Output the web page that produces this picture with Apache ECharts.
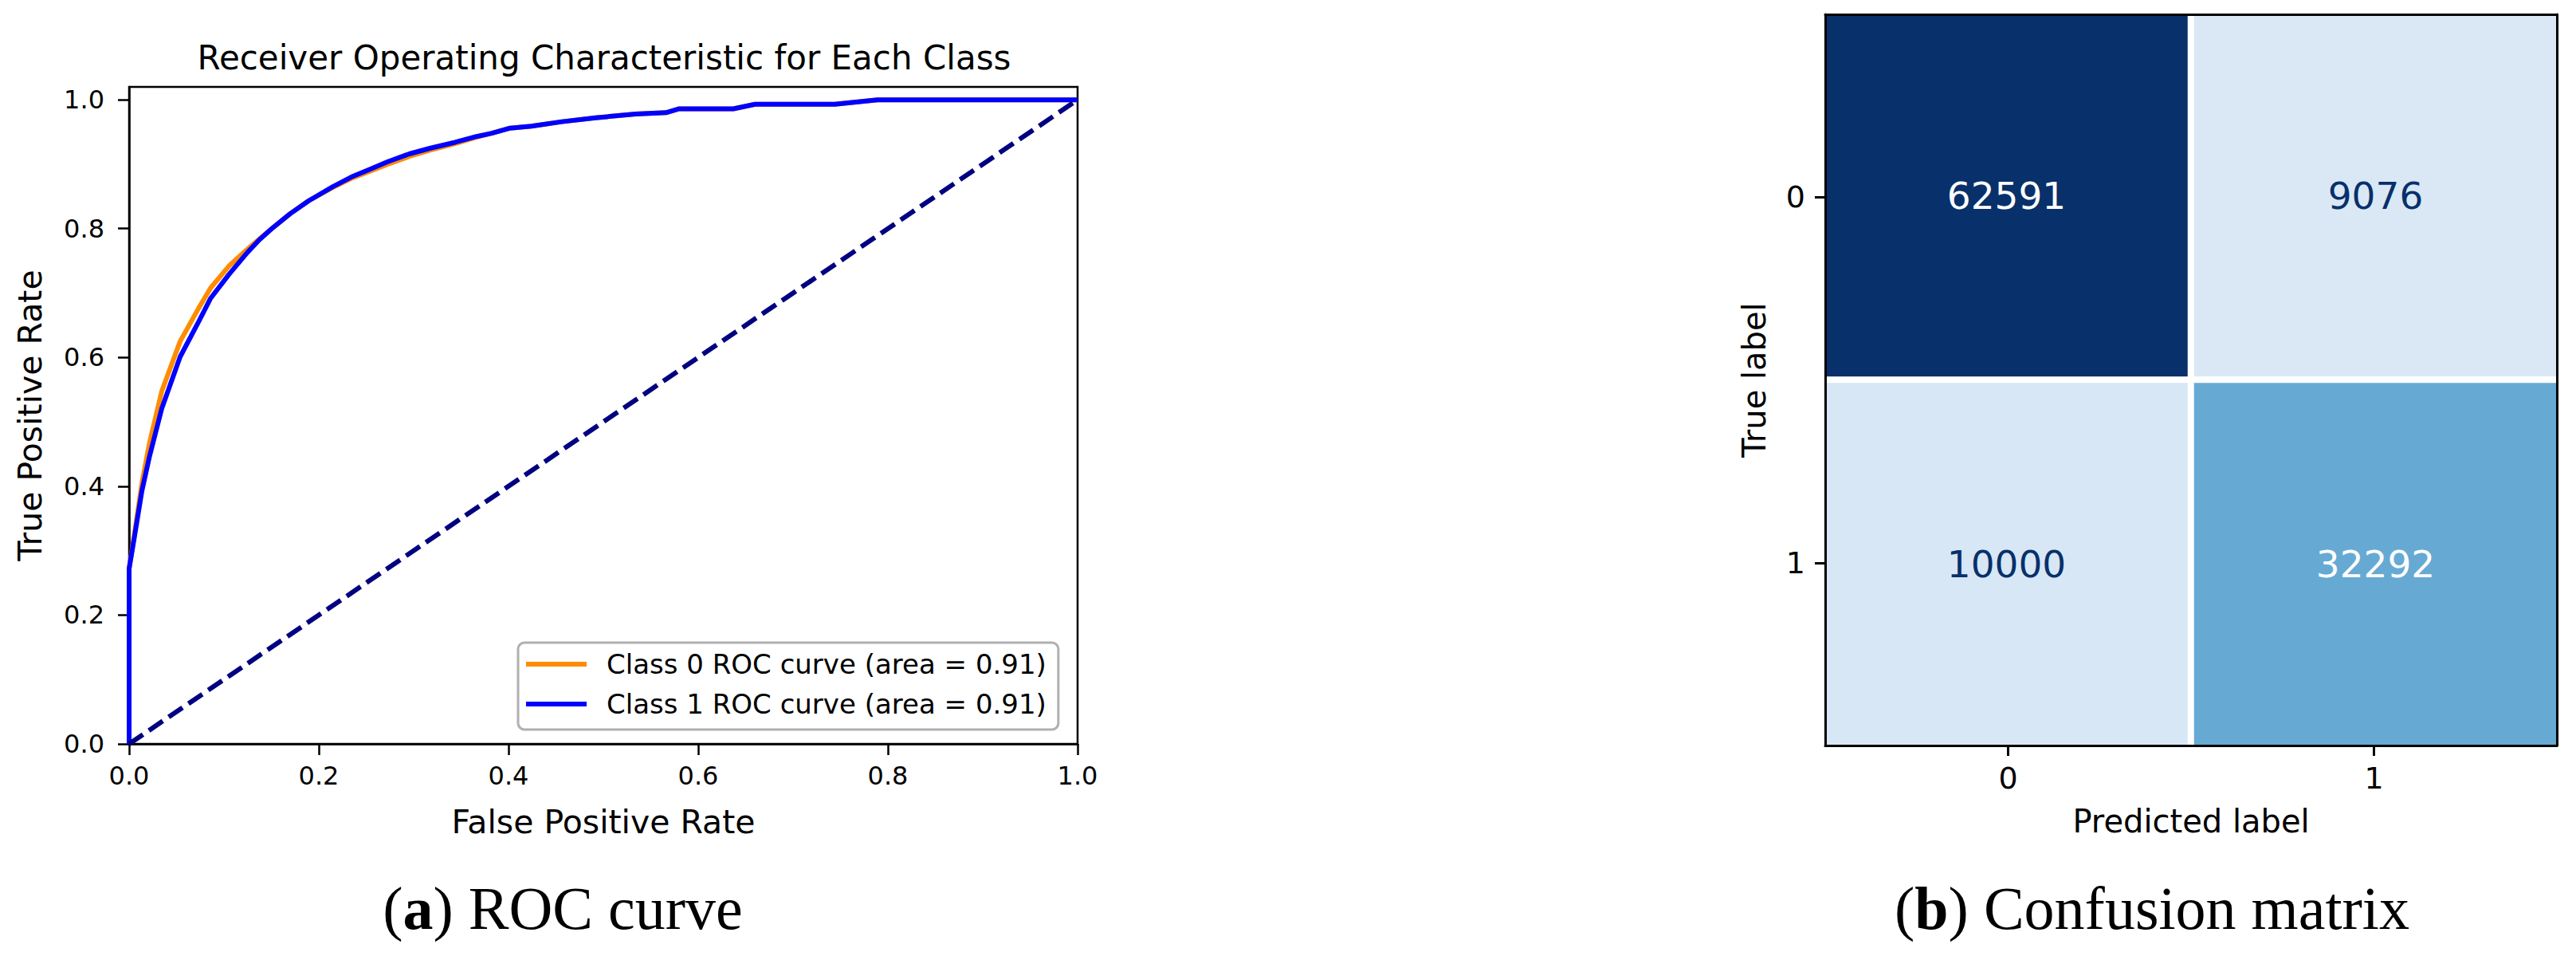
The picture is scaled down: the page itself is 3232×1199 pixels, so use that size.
<!DOCTYPE html>
<html>
<head>
<meta charset="utf-8">
<script src="https://cdn.jsdelivr.net/npm/echarts@6.0.0/dist/echarts.min.js"></script>
<style>
html, body { margin: 0; padding: 0; background: #ffffff; }
#c { width: 3232px; height: 1199px; }
</style>
</head>
<body>
<div id="c"></div>
<script>
// ---------- ROC data ----------
const fpr0 = [0, 0, 0.006, 0.0135, 0.0216, 0.0345, 0.0538, 0.0731, 0.086, 0.1053, 0.1247, 0.1375, 0.1504, 0.1697, 0.1891, 0.2148, 0.2342, 0.2535, 0.2728, 0.2954, 0.3179, 0.3437, 0.3662, 0.3823, 0.4017, 0.4242, 0.4564, 0.4918, 0.534, 0.566, 0.58, 0.637, 0.66, 0.744, 0.789, 1.0];
const tpr0 = [0, 0.272, 0.33, 0.405, 0.468, 0.548, 0.625, 0.676, 0.708, 0.742, 0.768, 0.784, 0.800, 0.823, 0.843, 0.864, 0.878, 0.889, 0.900, 0.912, 0.922, 0.932, 0.942, 0.948, 0.956, 0.959, 0.966, 0.972, 0.978, 0.980, 0.986, 0.986, 0.993, 0.993, 1.0, 1.0];
const fpr1 = [0, 0, 0.006, 0.0135, 0.0216, 0.0345, 0.0538, 0.0731, 0.086, 0.1053, 0.1247, 0.1375, 0.1504, 0.1697, 0.1891, 0.2148, 0.2342, 0.2535, 0.2728, 0.2954, 0.3179, 0.3437, 0.3662, 0.3823, 0.4017, 0.4242, 0.4564, 0.4918, 0.534, 0.566, 0.58, 0.637, 0.66, 0.744, 0.789, 1.0];
const tpr1 = [0, 0.272, 0.325, 0.393, 0.447, 0.521, 0.601, 0.655, 0.692, 0.729, 0.763, 0.783, 0.800, 0.823, 0.843, 0.865, 0.880, 0.892, 0.904, 0.916, 0.925, 0.934, 0.943, 0.948, 0.956, 0.959, 0.966, 0.972, 0.978, 0.980, 0.986, 0.986, 0.993, 0.993, 1.0, 1.0];
const diagFpr = [0, 1];
const diagTpr = [0, 1];
const rocTicks = [0, 0.2, 0.4, 0.6, 0.8, 1.0];
const seriesNames = ['Class 0 ROC curve (area = 0.91)', 'Class 1 ROC curve (area = 0.91)'];
const rocTitle = 'Receiver Operating Characteristic for Each Class';

// ---------- Confusion matrix data ----------
const cmPredicted = ['0', '1'];
const cmTrue = ['0', '1'];
const cmRow0 = [62591, 9076];
const cmRow1 = [10000, 32292];

const captionA = ['(', 'a', ') ROC curve'];
const captionB = ['(', 'b', ') Confusion matrix'];

// ---------- build ----------
const SANS = 'DejaVu Sans';
const SERIF = 'Liberation Serif';
const pair = (xs, ys) => xs.map((x, i) => [x, ys[i]]);
const cmRows = [cmRow0, cmRow1];
const cmMax = Math.max(...cmRow0, ...cmRow1);
const heat = [];
cmRows.forEach((row, i) => row.forEach((v, j) => {
  heat.push({ value: [j, i, v], label: { color: v > cmMax / 2 ? '#ffffff' : '#08306b' } });
}));
const blues = ['#f7fbff', '#deebf7', '#c6dbef', '#9ecae1', '#6baed6', '#4292c6', '#2171b5', '#08519c', '#08306b'];

const capRich = {
  n: { fontFamily: SERIF, fontSize: 76, color: '#000', lineHeight: 76, fontWeight: 'normal' },
  b: { fontFamily: SERIF, fontSize: 76, color: '#000', lineHeight: 76, fontWeight: 'bold' }
};
const capText = c => '{n|' + c[0] + '}{b|' + c[1] + '}{n|' + c[2] + '}';

const blackLine = w => ({ show: true, onZero: false, lineStyle: { color: '#000', width: w } });

const chart = echarts.init(document.getElementById('c'), null, { renderer: 'svg', width: 3232, height: 1199 });
chart.setOption({
  backgroundColor: '#ffffff',
  animation: false,
  title: [
    { text: rocTitle, left: 758, top: 51, textAlign: 'center', padding: 0,
      textStyle: { fontFamily: SANS, fontSize: 42, fontWeight: 'normal', color: '#000', lineHeight: 42 } },
    { text: capText(captionA), left: 706, top: 1101, textAlign: 'center', padding: 0,
      textStyle: { fontFamily: SERIF, fontSize: 76, fontWeight: 'normal', color: '#000', rich: capRich } },
    { text: capText(captionB), left: 2700, top: 1101, textAlign: 'center', padding: 0,
      textStyle: { fontFamily: SERIF, fontSize: 76, fontWeight: 'normal', color: '#000', rich: capRich } }
  ],
  legend: {
    data: seriesNames,
    orient: 'vertical',
    left: 650, top: 806,
    padding: [10, 15, 15, 10],
    itemGap: 16,
    itemWidth: 76, itemHeight: 6,
    icon: 'rect',
    selectedMode: false,
    borderColor: '#b0b0b0', borderWidth: 3, borderRadius: 8,
    backgroundColor: '#ffffff',
    textStyle: { fontFamily: SANS, fontSize: 34, color: '#000', lineHeight: 34, padding: [0, 0, 0, 20] }
  },
  grid: [
    { left: 162, top: 109, width: 1190, height: 824, show: true, borderColor: '#000', borderWidth: 2.5, backgroundColor: 'transparent' },
    { left: 2286, top: 14, width: 926, height: 925 },
    { left: 2290, top: 18, width: 918, height: 917 }
  ],
  xAxis: [
    { type: 'value', gridIndex: 0, min: 0, max: 1, interval: 0.2,
      axisLine: blackLine(2.5),
      axisTick: { show: true, inside: false, length: 14, customValues: rocTicks, lineStyle: { color: '#000', width: 2.5 } },
      axisLabel: { customValues: rocTicks, formatter: v => v.toFixed(1), margin: 24, fontFamily: SANS, fontSize: 32, color: '#000', lineHeight: 32 },
      splitLine: { show: false },
      name: 'False Positive Rate', nameLocation: 'middle', nameGap: 77,
      nameTextStyle: { fontFamily: SANS, fontSize: 41, color: '#000', lineHeight: 41 } },
    { type: 'category', gridIndex: 1, data: cmPredicted, show: false },
    { type: 'category', gridIndex: 2, data: cmPredicted, position: 'bottom', z: 10,
      axisLine: blackLine(3),
      axisTick: { show: true, alignWithLabel: true, length: 13, lineStyle: { color: '#000', width: 3 } },
      axisLabel: { margin: 22, fontFamily: SANS, fontSize: 38, color: '#000', lineHeight: 38 },
      splitLine: { show: false },
      name: 'Predicted label', nameLocation: 'middle', nameGap: 75,
      nameTextStyle: { fontFamily: SANS, fontSize: 40, color: '#000', lineHeight: 40 } },
    { type: 'category', gridIndex: 2, data: cmPredicted, position: 'top', z: 10,
      axisLine: blackLine(3), axisTick: { show: false }, axisLabel: { show: false }, splitLine: { show: false } }
  ],
  yAxis: [
    { type: 'value', gridIndex: 0, min: 0, max: 1.02,
      axisLine: blackLine(2.5),
      axisTick: { show: true, inside: false, length: 14, customValues: rocTicks, lineStyle: { color: '#000', width: 2.5 } },
      axisLabel: { customValues: rocTicks, formatter: v => v.toFixed(1), margin: 31, fontFamily: SANS, fontSize: 32, color: '#000', lineHeight: 32 },
      splitLine: { show: false },
      name: 'True Positive Rate', nameLocation: 'middle', nameGap: 104,
      nameTextStyle: { fontFamily: SANS, fontSize: 41, color: '#000', lineHeight: 41 } },
    { type: 'category', gridIndex: 1, data: cmTrue, inverse: true, show: false },
    { type: 'category', gridIndex: 2, data: cmTrue, inverse: true, position: 'left', z: 10,
      axisLine: blackLine(3),
      axisTick: { show: true, alignWithLabel: true, length: 13, lineStyle: { color: '#000', width: 3 } },
      axisLabel: { margin: 25, fontFamily: SANS, fontSize: 38, color: '#000', lineHeight: 38 },
      splitLine: { show: false },
      name: 'True label', nameLocation: 'middle', nameGap: 69,
      nameTextStyle: { fontFamily: SANS, fontSize: 40, color: '#000', lineHeight: 40 } },
    { type: 'category', gridIndex: 2, data: cmTrue, inverse: true, position: 'right', z: 10,
      axisLine: blackLine(3), axisTick: { show: false }, axisLabel: { show: false }, splitLine: { show: false } }
  ],
  visualMap: {
    show: false, type: 'continuous', min: 0, max: cmMax, dimension: 2, seriesIndex: 3,
    inRange: { color: blues }
  },
  series: [
    { type: 'line', name: seriesNames[0], xAxisIndex: 0, yAxisIndex: 0, data: pair(fpr0, tpr0),
      symbol: 'none', showSymbol: false, lineStyle: { color: '#ff8c00', width: 6 }, itemStyle: { color: '#ff8c00' },
      emphasis: { disabled: true } },
    { type: 'line', name: seriesNames[1], xAxisIndex: 0, yAxisIndex: 0, data: pair(fpr1, tpr1),
      symbol: 'none', showSymbol: false, lineStyle: { color: '#0000ff', width: 6 }, itemStyle: { color: '#0000ff' },
      emphasis: { disabled: true } },
    { type: 'line', name: 'chance', xAxisIndex: 0, yAxisIndex: 0, data: pair(diagFpr, diagTpr),
      symbol: 'none', showSymbol: false, lineStyle: { color: '#000080', width: 6, type: [21, 9] }, itemStyle: { color: '#000080' },
      emphasis: { disabled: true } },
    { type: 'heatmap', xAxisIndex: 1, yAxisIndex: 1, data: heat,
      itemStyle: { borderColor: '#ffffff', borderWidth: 8 },
      label: { show: true, formatter: p => String(p.value[2]), fontFamily: SANS, fontSize: 47 },
      emphasis: { disabled: true } }
  ]
});
</script>
</body>
</html>
